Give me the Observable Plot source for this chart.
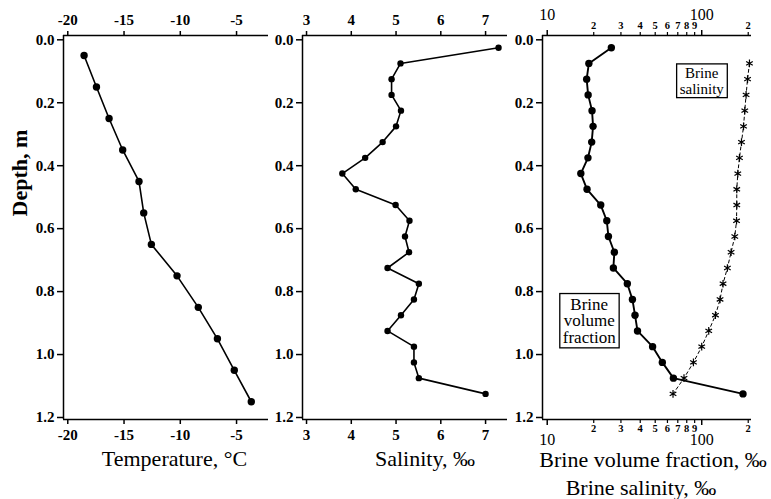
<!DOCTYPE html>
<html><head><meta charset="utf-8">
<script src="https://cdn.jsdelivr.net/npm/d3@7"></script>
<script src="https://cdn.jsdelivr.net/npm/@observablehq/plot@0.6"></script>
<style>
body{margin:0;background:#fff;}
#chart{position:relative;width:771px;height:499px;font-family:"Liberation Serif",serif;color:#000;}
#chart svg{position:absolute;top:0;overflow:visible;font-family:"Liberation Serif",serif !important;}
#chart svg text, #chart svg g{font-family:"Liberation Serif",serif !important;}
</style></head><body><div id="chart"></div>
<script>
// ---- data ----
const tempDepth = [0.05, 0.15, 0.25, 0.35, 0.45, 0.55, 0.65, 0.75, 0.85, 0.95, 1.05, 1.15];
const temperature = [-18.55, -17.45, -16.33, -15.12, -13.67, -13.25, -12.57, -10.29, -8.40, -6.70, -5.20, -3.69];

const profileDepth = [0.025, 0.075, 0.125, 0.175, 0.225, 0.275, 0.325, 0.375, 0.425, 0.475, 0.525, 0.575,
                      0.625, 0.675, 0.725, 0.775, 0.825, 0.875, 0.925, 0.975, 1.025, 1.075, 1.125];
const salinity = [7.29, 5.10, 4.90, 4.90, 5.11, 5.00, 4.70, 4.31, 3.80, 4.10, 4.99, 5.30,
                  5.20, 5.29, 4.81, 5.51, 5.40, 5.11, 4.81, 5.40, 5.40, 5.51, 7.00];
const brineVolume = [26.0, 18.6, 18.0, 18.4, 19.5, 19.8, 19.4, 18.35, 16.5, 18.1, 22.2, 24.3,
                     24.9, 27.2, 26.8, 33.0, 35.6, 37.0, 38.4, 48.1, 55.6, 65.6, 185];

const brineSalDepth = [0.075, 0.125, 0.175, 0.225, 0.275, 0.325, 0.375, 0.425, 0.475, 0.525, 0.575,
                       0.625, 0.675, 0.725, 0.775, 0.825, 0.875, 0.925, 0.975, 1.025, 1.075, 1.125];
const brineSalinity = [203.7, 198, 193.7, 190, 186.5, 180.9, 175.5, 171.2, 168.6, 168.6, 168,
                       163.7, 154.9, 146.6, 137.4, 131.4, 122.7, 111.0, 100.0, 88.4, 76.8, 65.2];

const depthTicks = [0, 0.2, 0.4, 0.6, 0.8, 1.0, 1.2];
const tempTicks = [-20, -15, -10, -5];
const salTicks = [3, 4, 5, 6, 7];
const logMajorTicks = [10, 100];
const logMinorTicks = [20, 30, 40, 50, 60, 70, 80, 90, 200];
const logMinorLabels = ["2", "3", "4", "5", "6", "7", "8", "9", "2"];

const annotations = [
  {x: 100, y: 0.130, label: "Brine\nsalinity", size: 15, lh: 1.05},
  {x: 18.7, y: 0.893, label: "Brine\nvolume\nfraction", size: 17, lh: 0.98}
];

// ---- layout ----
const yDomain = [-0.0137, 1.2064];
const H = 499, MT = 35, MB = 80;
const font = "Liberation Serif";
const chart = document.getElementById("chart");
const tbl = (xs, ys) => xs.map((x, i) => ({x, y: ys[i]}));

function yAxis() {
  return Plot.axisY({ticks: depthTicks, tickFormat: d3.format(".1f"), tickSize: 6, tickPadding: 3,
    fontSize: 15, fontWeight: "bold", fontFamily: font, label: null, strokeWidth: 1.5});
}
function frameRules(x0) {
  return [Plot.ruleX([x0], {strokeWidth: 1.5}), Plot.ruleY(yDomain, {strokeWidth: 1.5})];
}
function xTitle(t, dy, dx) {
  return Plot.text([t], {text: d => d, frameAnchor: "bottom", dy, dx, fontSize: 22, fontFamily: font, lineAnchor: "bottom"});
}
function xAx(anchor, ticks, o = {}) {
  return Plot.axisX({anchor, ticks, tickSize: 5, tickPadding: anchor === "top" ? 6 : 5, fontSize: 15,
    fontWeight: "bold", fontFamily: font, label: null, tickFormat: d => String(d), strokeWidth: 1.5, ...o});
}
function styleTicks(svg) {
  svg.querySelectorAll('g[aria-label$="tick label"]').forEach(g => {
    g.querySelectorAll("text").forEach(t => {
      const s = t.textContent;
      const major = s === "10" || s === "100";
      let size = 15, weight = "bold";
      if (svg.__log && g.getAttribute("aria-label").startsWith("x")) {
        size = major ? 16 : 10.5; weight = major ? "normal" : "bold";
      }
      t.style.setProperty("font-size", size + "px", "important");
      t.style.setProperty("font-weight", weight, "important");
      t.style.setProperty("font-family", '"Liberation Serif", serif', "important");
    });
  });
}
function makePlot(left, width, ml, mr, x, marks, isLog) {
  const svg = Plot.plot({
    width, height: H, marginTop: MT, marginBottom: MB, marginLeft: ml, marginRight: mr,
    style: {background: "transparent", overflow: "visible", color: "#000"},
    x, y: {domain: yDomain, reverse: true},
    marks
  });
  svg.__log = !!isLog;
  svg.style.left = left + "px";
  chart.appendChild(svg);
  styleTicks(svg);
  return svg;
}

// Panel 1: temperature
const tempDomain = [-20.38, -2.16];
makePlot(0, 270, 63, 2, {domain: tempDomain}, [
  yAxis(),
  xAx("top", tempTicks),
  xAx("bottom", tempTicks),
  ...frameRules(tempDomain[0]),
  Plot.line(tbl(temperature, tempDepth), {x: "x", y: "y", strokeWidth: 1.6}),
  Plot.dot(tbl(temperature, tempDepth), {x: "x", y: "y", r: 3.7, fill: "#000"}),
  xTitle("Temperature, °C", 46, 8.5),
  Plot.text(["Depth, m"], {text: d => d, frameAnchor: "left", rotate: -90, dx: -44, dy: -11, fontSize: 22, fontWeight: "bold", fontFamily: font})
]);

// Panel 2: salinity
const salDomain = [2.91, 7.49];
makePlot(270, 240, 32, 3, {domain: salDomain}, [
  yAxis(),
  xAx("top", salTicks),
  xAx("bottom", salTicks),
  ...frameRules(salDomain[0]),
  Plot.line(tbl(salinity, profileDepth), {x: "x", y: "y", strokeWidth: 1.6}),
  Plot.dot(tbl(salinity, profileDepth), {x: "x", y: "y", r: 3.2, fill: "#000"}),
  xTitle("Salinity, ‰", 46, 20)
]);

// Panel 3: brine volume fraction & brine salinity (log)
const logDomain = [9.32, 210];
const minorFmt = d => logMinorLabels[logMinorTicks.indexOf(d)];
const svg3 = makePlot(510, 261, 32, 20, {type: "log", domain: logDomain}, [
  yAxis(),
  xAx("top", logMajorTicks, {tickSize: 6, tickPadding: 10, fontSize: 16, fontWeight: "normal"}),
  xAx("top", logMinorTicks, {tickSize: 4, tickPadding: 3, fontSize: 10.5, tickFormat: minorFmt, strokeWidth: 1.2}),
  xAx("bottom", logMajorTicks, {tickSize: 6, tickPadding: 8, fontSize: 16, fontWeight: "normal"}),
  xAx("bottom", logMinorTicks, {tickSize: 4, tickPadding: 1, fontSize: 10.5, tickFormat: minorFmt, strokeWidth: 1.2}),
  ...frameRules(logDomain[0]),
  Plot.line(tbl(brineSalinity, brineSalDepth), {x: "x", y: "y", strokeWidth: 1, strokeDasharray: "3,3"}),
  Plot.dot(tbl(brineSalinity, brineSalDepth), {x: "x", y: "y", symbol: "asterisk", r: 3.6, stroke: "#000", strokeWidth: 1.2}),
  Plot.line(tbl(brineVolume, profileDepth), {x: "x", y: "y", strokeWidth: 1.9}),
  Plot.dot(tbl(brineVolume, profileDepth), {x: "x", y: "y", r: 3.7, fill: "#000"}),
  ...annotations.map(a => Plot.text([a], {x: "x", y: "y", text: "label", fontSize: a.size, fontFamily: font, lineHeight: a.lh, lineAnchor: "middle"})),
  xTitle("Brine volume fraction, ‰", 47, 6),
  xTitle("Brine salinity, ‰", 75, -6)
], true);

// boxes around the multi-line annotation labels
svg3.querySelectorAll("text").forEach(t => {
  if (t.querySelectorAll("tspan").length < 2) return;
  const b = t.getBBox();
  const r = document.createElementNS("http://www.w3.org/2000/svg", "rect");
  r.setAttribute("x", b.x - 3); r.setAttribute("y", b.y - 1);
  r.setAttribute("width", b.width + 6); r.setAttribute("height", b.height + 2);
  r.setAttribute("fill", "#fff"); r.setAttribute("stroke", "#000"); r.setAttribute("stroke-width", 1.3);
  if (t.getAttribute("transform")) r.setAttribute("transform", t.getAttribute("transform"));
  t.parentNode.insertBefore(r, t);
});
</script></body></html>
